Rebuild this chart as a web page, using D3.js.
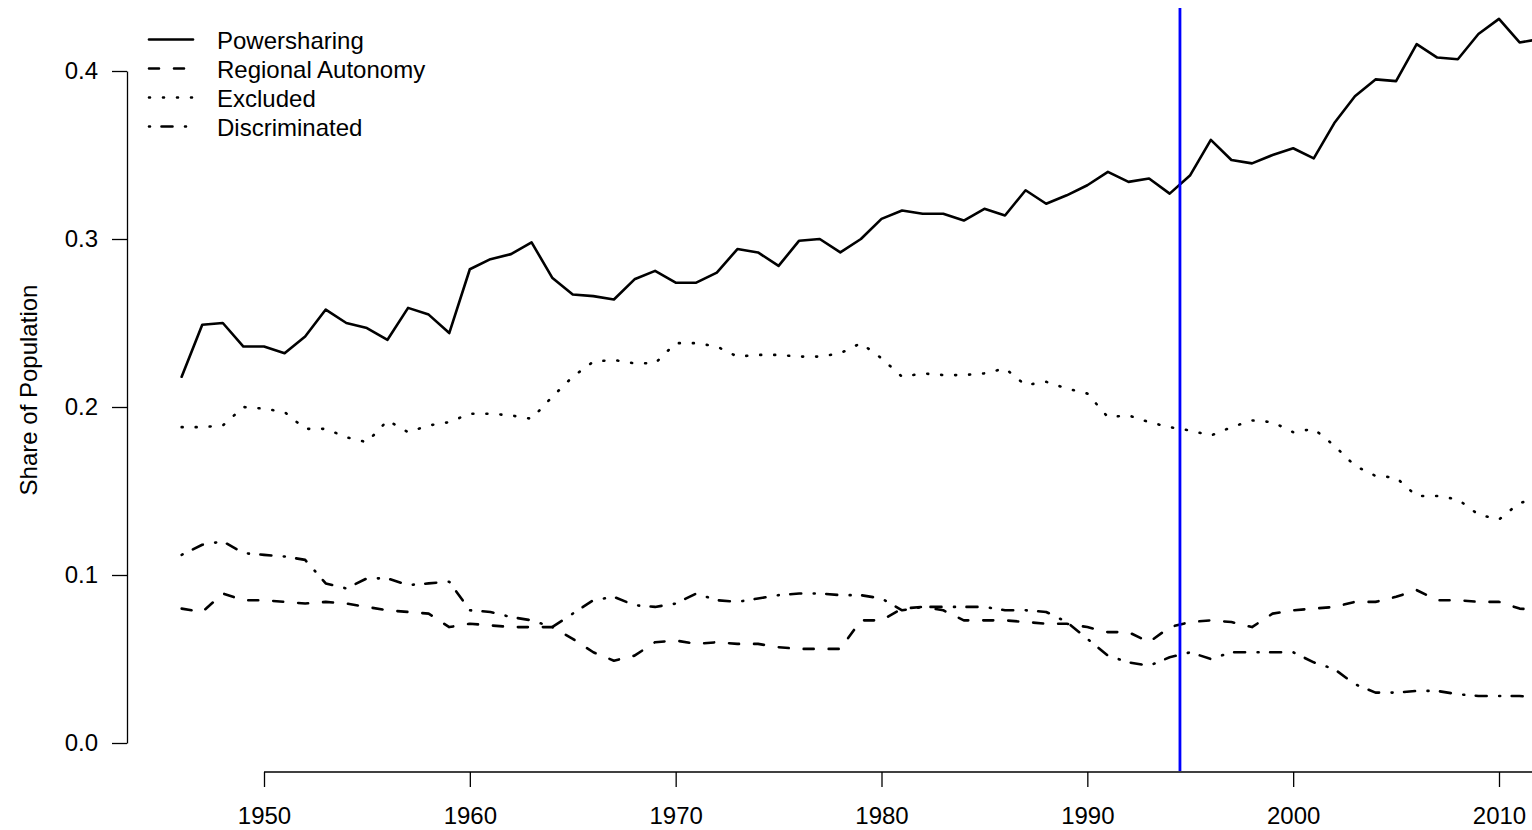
<!DOCTYPE html>
<html>
<head>
<meta charset="utf-8">
<script src="https://cdn.jsdelivr.net/npm/d3@7"></script>
<style>
  body { margin: 0; background: #fff; }
  text { font-family: "Liberation Sans", Arial, sans-serif; }
</style>
</head>
<body>
<div id="chart"></div>
<script>

// years and shares
const years = d3.range(1946, 2013);

const powersharing = [
  0.218, 0.249, 0.250, 0.236, 0.236, 0.232, 0.242, 0.258, 0.250, 0.247,
  0.240, 0.259, 0.255, 0.244, 0.282, 0.288, 0.291, 0.298, 0.277, 0.267,
  0.266, 0.264, 0.276, 0.281, 0.274, 0.274, 0.280, 0.294, 0.292, 0.284,
  0.299, 0.300, 0.292, 0.300, 0.312, 0.317, 0.315, 0.315, 0.311, 0.318,
  0.314, 0.329, 0.321, 0.326, 0.332, 0.340, 0.334, 0.336, 0.327, 0.338,
  0.359, 0.347, 0.345, 0.350, 0.354, 0.348, 0.369, 0.385, 0.395, 0.394,
  0.416, 0.408, 0.407, 0.422, 0.431, 0.417, 0.419
];

const regional = [
  0.080, 0.078, 0.089, 0.085, 0.085, 0.084, 0.083, 0.084, 0.083, 0.081,
  0.079, 0.078, 0.077, 0.069, 0.071, 0.070, 0.069, 0.069, 0.069, 0.062,
  0.054, 0.049, 0.052, 0.060, 0.061, 0.059, 0.060, 0.059, 0.059, 0.057,
  0.056, 0.056, 0.056, 0.073, 0.073, 0.080, 0.081, 0.079, 0.073, 0.073,
  0.073, 0.072, 0.071, 0.071, 0.069, 0.066, 0.066, 0.060, 0.069, 0.072,
  0.073, 0.072, 0.069, 0.077, 0.079, 0.080, 0.081, 0.084, 0.084, 0.087,
  0.091, 0.085, 0.085, 0.084, 0.084, 0.080, 0.079
];

const excluded = [
  0.188, 0.188, 0.189, 0.200, 0.199, 0.197, 0.187, 0.187, 0.182, 0.179,
  0.192, 0.185, 0.189, 0.191, 0.196, 0.196, 0.195, 0.193, 0.206, 0.218,
  0.227, 0.228, 0.226, 0.226, 0.238, 0.238, 0.236, 0.230, 0.231, 0.231,
  0.230, 0.230, 0.232, 0.238, 0.229, 0.218, 0.220, 0.219, 0.219, 0.220,
  0.223, 0.213, 0.215, 0.211, 0.208, 0.194, 0.195, 0.191, 0.188, 0.186,
  0.183, 0.188, 0.192, 0.191, 0.185, 0.187, 0.177, 0.165, 0.159, 0.158,
  0.147, 0.147, 0.145, 0.136, 0.133, 0.143, 0.145
];

const discriminated = [
  0.112, 0.118, 0.120, 0.113, 0.112, 0.111, 0.109, 0.095, 0.092, 0.098,
  0.098, 0.094, 0.095, 0.096, 0.079, 0.078, 0.075, 0.073, 0.069, 0.077,
  0.085, 0.087, 0.082, 0.081, 0.083, 0.089, 0.085, 0.084, 0.086, 0.088,
  0.089, 0.089, 0.088, 0.088, 0.086, 0.079, 0.081, 0.081, 0.081, 0.081,
  0.079, 0.079, 0.078, 0.072, 0.062, 0.052, 0.048, 0.046, 0.051, 0.054,
  0.050, 0.054, 0.054, 0.054, 0.054, 0.048, 0.044, 0.035, 0.030, 0.030,
  0.031, 0.031, 0.029, 0.028, 0.028, 0.028, 0.027
];

const seriesNames = ["Powersharing", "Regional Autonomy", "Excluded", "Discriminated"];
const xTicks = [1950, 1960, 1970, 1980, 1990, 2000, 2010];
const yTicks = [0, 0.1, 0.2, 0.3, 0.4];
const cutYear = 1994.5;

const width = 1532;
const height = 830;

// dash patterns roughly like R's lty 1..4
const dashes = [null, "10 15", "1 13", "1 11.5 11 12.5"];

const svg = d3.select("#chart")
  .append("svg")
  .attr("width", width)
  .attr("height", height);

// scales
const x = d3.scaleLinear().domain([1950, 2010]).range([264, 1499]);
const y = d3.scaleLinear().domain([0, 0.4]).range([743, 71]);

// y axis
const yAxis = svg.append("g")
  .attr("transform", "translate(127,0)")
  .call(d3.axisLeft(y).tickValues(yTicks).tickSize(15).tickSizeOuter(0).tickPadding(14)
    .tickFormat(d3.format(".1f")));
yAxis.selectAll("text").attr("font-size", 24).attr("fill", "#000")
  .attr("font-family", "Liberation Sans, Arial, sans-serif");
yAxis.selectAll("line").attr("stroke", "#000").attr("stroke-width", 1.3);
yAxis.select(".domain").attr("stroke", "#000").attr("stroke-width", 1.3);

// x axis
const xAxis = svg.append("g")
  .attr("transform", "translate(0,772)")
  .call(d3.axisBottom(x).tickValues(xTicks).tickSize(15).tickSizeOuter(0).tickPadding(20)
    .tickFormat(d3.format("d")));
xAxis.select(".domain").remove();
xAxis.append("line")
  .attr("x1", x(1950)).attr("x2", x(2020))
  .attr("stroke", "#000").attr("stroke-width", 1.3);
xAxis.selectAll("text").attr("font-size", 24).attr("fill", "#000")
  .attr("font-family", "Liberation Sans, Arial, sans-serif");
xAxis.selectAll("line").attr("stroke", "#000").attr("stroke-width", 1.3);

// y label
svg.append("text")
  .attr("transform", "translate(37,390) rotate(-90)")
  .attr("text-anchor", "middle")
  .attr("font-size", 24)
  .text("Share of Population");

// lines
const line = d3.line()
  .x((d, i) => x(years[i]))
  .y(d => y(d));

const allSeries = [powersharing, regional, excluded, discriminated];

svg.selectAll(".series")
  .data(allSeries)
  .enter()
  .append("path")
    .attr("class", "series")
    .attr("d", d => line(d))
    .attr("fill", "none")
    .attr("stroke", "#000")
    .attr("stroke-width", 2.6)
    .attr("stroke-linecap", "round")
    .attr("stroke-linejoin", "round")
    .attr("stroke-dasharray", (d, i) => dashes[i]);

// blue vertical marker
svg.append("line")
  .attr("x1", x(cutYear)).attr("x2", x(cutYear))
  .attr("y1", 8).attr("y2", 771)
  .attr("stroke", "#0000ff")
  .attr("stroke-width", 2.8);

// legend
const legend = svg.append("g");
const rows = legend.selectAll("g")
  .data(seriesNames)
  .enter()
  .append("g")
    .attr("transform", (d, i) => `translate(0,${39.5 + i * 29})`);

rows.append("line")
  .attr("x1", 149).attr("x2", 193)
  .attr("stroke", "#000")
  .attr("stroke-width", 2.6)
  .attr("stroke-linecap", "round")
  .attr("stroke-dasharray", (d, i) => dashes[i]);

rows.append("text")
  .attr("x", 217)
  .attr("y", 9)
  .attr("font-size", 24)
  .text(d => d);

</script>
</body>
</html>
